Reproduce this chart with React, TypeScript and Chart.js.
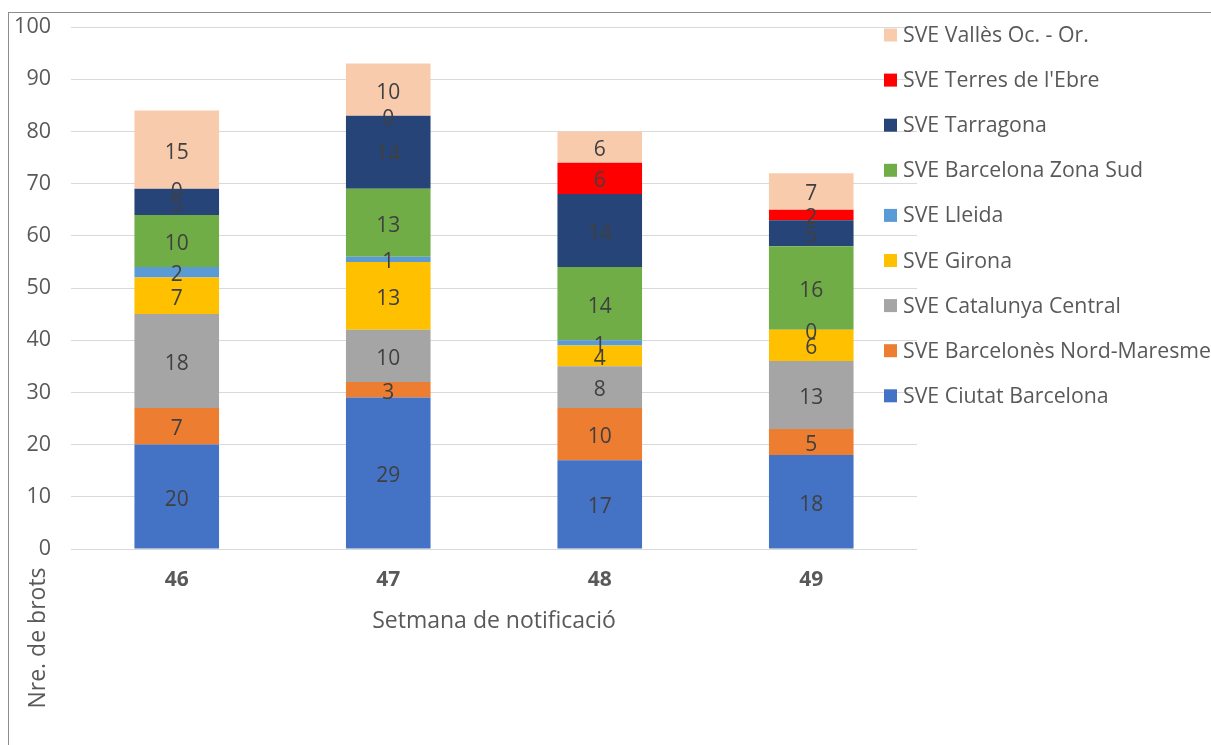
import React, { useEffect, useRef } from "react";
import { Chart, registerables } from "chart.js";

Chart.register(...registerables);

const weeks = ["46", "47", "48", "49"];
const seriesNames = [
  "SVE Ciutat Barcelona",
  "SVE Barcelonès Nord-Maresme",
  "SVE Catalunya Central",
  "SVE Girona",
  "SVE Lleida",
  "SVE Barcelona Zona Sud",
  "SVE Tarragona",
  "SVE Terres de l'Ebre",
  "SVE Vallès Oc. - Or.",
];
const ciutatBarcelona = [20, 29, 17, 18];
const barcelonesNord = [7, 3, 10, 5];
const catalunyaCentral = [18, 10, 8, 13];
const girona = [7, 13, 4, 6];
const lleida = [2, 1, 1, 0];
const barcelonaZonaSud = [10, 13, 14, 16];
const tarragona = [5, 14, 14, 5];
const terresEbre = [0, 0, 6, 2];
const vallesOcOr = [15, 10, 6, 7];
const seriesValues = [
  ciutatBarcelona,
  barcelonesNord,
  catalunyaCentral,
  girona,
  lleida,
  barcelonaZonaSud,
  tarragona,
  terresEbre,
  vallesOcOr,
];
const seriesColors = [
  "#4472C4",
  "#ED7D31",
  "#A5A5A5",
  "#FFC000",
  "#5B9BD5",
  "#70AD47",
  "#264478",
  "#FF0000",
  "#F8CBAD",
];
const yTicks = [0, 10, 20, 30, 40, 50, 60, 70, 80, 90, 100];
const xTitle = "Setmana de notificació";
const yTitle = "Nre. de brots";

const FONT = "'Open Sans', 'DejaVu Sans', sans-serif";
const TXT = "#595959";

const extrasPlugin = {
  id: "extras",
  afterDatasetsDraw(chart: any) {
    const ctx = chart.ctx;
    ctx.save();
    ctx.font = `21px ${FONT}`;
    ctx.fillStyle = "#404040";
    ctx.textAlign = "center";
    ctx.textBaseline = "middle";
    chart.data.datasets.forEach((ds: any, i: number) => {
      const meta = chart.getDatasetMeta(i);
      meta.data.forEach((el: any, j: number) => {
        const v = ds.data[j];
        const cy = (el.y + el.base) / 2;
        ctx.fillText(String(v), el.x, cy + 3);
      });
    });
    ctx.restore();
  },
  afterDraw(chart: any) {
    const ctx = chart.ctx;
    const a = chart.chartArea;
    ctx.save();
    // x title
    ctx.font = `23px ${FONT}`;
    ctx.fillStyle = TXT;
    ctx.textAlign = "center";
    ctx.textBaseline = "middle";
    ctx.fillText(xTitle, (a.left + a.right) / 2, a.bottom + 72);
    // y title
    ctx.save();
    ctx.translate(29, a.bottom + 89);
    ctx.rotate(-Math.PI / 2);
    ctx.fillText(yTitle, 0, 0);
    ctx.restore();
    // legend (reversed order)
    const lx = a.right - 33;
    const ly0 = a.top + 8;
    const step = 45.1;
    ctx.textAlign = "left";
    ctx.font = `21.3px ${FONT}`;
    for (let k = 0; k < seriesNames.length; k++) {
      const idx = seriesNames.length - 1 - k;
      const cy = ly0 + k * step;
      ctx.fillStyle = seriesColors[idx];
      ctx.fillRect(lx, cy - 6.5, 13, 13);
      ctx.fillStyle = TXT;
      ctx.fillText(seriesNames[idx], lx + 19, cy + 1);
    }
    ctx.restore();
  },
};

export default function App() {
  const ref = useRef<HTMLCanvasElement | null>(null);
  useEffect(() => {
    if (!ref.current) return;
    const chart = new Chart(ref.current, {
      type: "bar",
      data: {
        labels: weeks,
        datasets: seriesNames.map((name, i) => ({
          label: name,
          data: seriesValues[i],
          backgroundColor: seriesColors[i],
          borderWidth: 0,
          categoryPercentage: 1,
          barPercentage: 0.4,
        })),
      },
      options: {
        animation: false,
        responsive: false,
        maintainAspectRatio: false,
        layout: { padding: { left: 0, top: 14, right: 294, bottom: 146 } },
        plugins: {
          legend: { display: false },
          tooltip: { enabled: false },
          title: { display: false },
        },
        scales: {
          x: {
            stacked: true,
            grid: { display: false, drawTicks: false },
            border: { display: false },
            ticks: {
              color: TXT,
              font: { family: FONT, size: 21, weight: "bold" },
              padding: 18,
            },
            afterFit: (s: any) => {
              s.height = 50;
              s.paddingLeft = 0;
              s.paddingRight = 0;
            },
          },
          y: {
            stacked: true,
            min: 0,
            max: 100,
            afterBuildTicks: (s: any) => {
              s.ticks = yTicks.map((v) => ({ value: v }));
            },
            grid: { color: "#D9D9D9", lineWidth: 1, drawTicks: false },
            border: { display: false },
            ticks: {
              color: TXT,
              font: { family: FONT, size: 21.5 },
              padding: 20,
            },
            afterFit: (s: any) => {
              s.width = 62;
              s.paddingTop = 0;
              s.paddingBottom = 0;
            },
          },
        },
      },
      plugins: [extrasPlugin],
    });
    return () => chart.destroy();
  }, []);
  return (
    <div
      style={{
        position: "absolute",
        left: 8,
        top: 12,
        width: 1203,
        height: 733,
        borderTop: "1px solid #8C8C8C",
        borderLeft: "1px solid #8C8C8C",
        background: "#fff",
      }}
    >
      <canvas ref={ref} width={1202} height={732} style={{ display: "block" }} />
    </div>
  );
}
